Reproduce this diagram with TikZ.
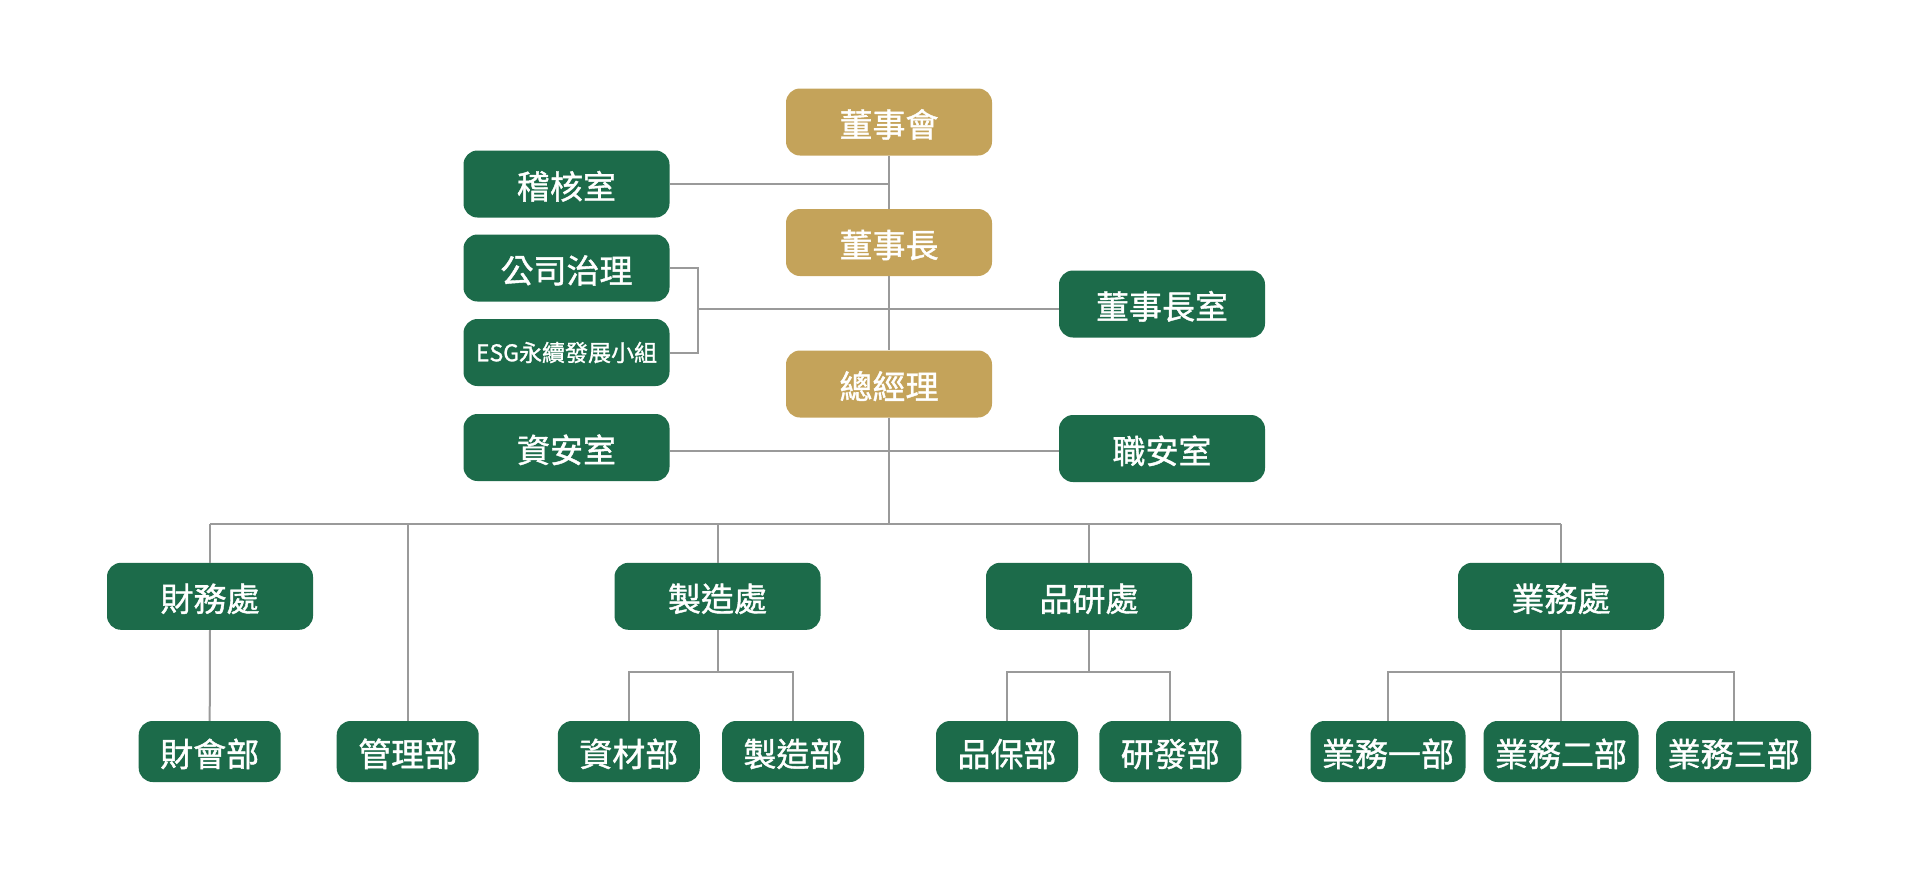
\documentclass[tikz,border=0pt]{standalone}
\usepackage{fontspec}
\setmainfont{Noto Sans CJK TC}[FakeBold=1.2]
\definecolor{gold}{HTML}{C4A35A}
\definecolor{dgreen}{HTML}{1C6B4A}
\definecolor{lgray}{HTML}{9A9A9A}
\tikzset{
  box/.style={rectangle, rounded corners=14pt, inner sep=0pt, text=white,
    font=\fontsize{33}{40}\selectfont, text height=30pt, text depth=0pt},
  goldbox/.style={box, fill=gold, minimum width=206pt, minimum height=67pt},
  greenbox/.style={box, fill=dgreen, minimum width=206pt, minimum height=67pt},
  smallbox/.style={box, fill=dgreen, minimum width=142pt, minimum height=61pt},
  widebox/.style={box, fill=dgreen, minimum width=155pt, minimum height=61pt},
  link/.style={draw=lgray, line width=2pt}
}
\begin{document}
\begin{tikzpicture}[x=1pt,y=-1pt]
\useasboundingbox (0,0) rectangle (1920,873);
% top column
\node[goldbox] (board) at (889,122) {董事會};
\node[goldbox] (chair) at (889,242.5) {董事長};
\node[goldbox] (gm) at (889,384) {總經理};
\node[greenbox] (audit) at (566.5,184) {稽核室};
\node[greenbox] (gov) at (566.5,268) {公司治理};
\node[greenbox, font=\fontsize{23}{28}\selectfont, text height=17.5pt] (esg) at (566.5,352.5) {ESG永續發展小組};
\node[greenbox] (choff) at (1162,304) {董事長室};
\node[greenbox] (info) at (566.5,447.5) {資安室};
\node[greenbox] (safety) at (1162,448.5) {職安室};
% level 2
\node[greenbox] (fin) at (210,596.3) {財務處};
\node[greenbox] (mfg) at (717.5,596.3) {製造處};
\node[greenbox] (qr) at (1089,596.3) {品研處};
\node[greenbox] (sales) at (1561,596.3) {業務處};
% level 3
\node[smallbox] (acc) at (209.7,751.5) {財會部};
\node[smallbox] (mgmt) at (407.7,751.5) {管理部};
\node[smallbox] (mat) at (628.8,751.5) {資材部};
\node[smallbox] (mfgd) at (793,751.5) {製造部};
\node[smallbox] (qa) at (1007,751.5) {品保部};
\node[smallbox] (rd) at (1170.3,751.5) {研發部};
\node[widebox] (s1) at (1388,751.5) {業務一部};
\node[widebox] (s2) at (1561,751.5) {業務二部};
\node[widebox] (s3) at (1733.6,751.5) {業務三部};
% junction coordinates
\coordinate (govj) at (697.6,309);
\coordinate (safej) at (889,451);
\coordinate (bus) at (889,524);
\coordinate (mfgj) at (717.5,672);
\coordinate (qrj) at (1089,672);
\coordinate (salesj) at (1561,672);
% connectors
\draw[link] (board.south) -- (chair.north);
\draw[link] (chair.south) -- (gm.north);
\draw[link] (audit.east) -- (audit.east -| board.south);
\draw[link] (gov.east) -| (govj) |- (esg.east);
\draw[link] (govj) -- (choff.west |- govj);
\draw[link] (info.east |- safej) -- (safety.west |- safej);
\draw[link] (gm.south) -- (bus);
\draw[link] (fin.north |- bus) -- (sales.north |- bus);
\draw[link] (fin.north) -- (fin.north |- bus);
\draw[link] (mgmt.north) -- (mgmt.north |- bus);
\draw[link] (mfg.north) -- (mfg.north |- bus);
\draw[link] (qr.north) -- (qr.north |- bus);
\draw[link] (sales.north) -- (sales.north |- bus);
\draw[link] (fin.south) -- (acc.north);
\draw[link] (mfg.south) -- (mfgj);
\draw[link] (mat.north) |- (mfgj) -| (mfgd.north);
\draw[link] (qr.south) -- (qrj);
\draw[link] (qa.north) |- (qrj) -| (rd.north);
\draw[link] (sales.south) -- (s2.north);
\draw[link] (s1.north) |- (salesj) -| (s3.north);
\end{tikzpicture}
\end{document}
